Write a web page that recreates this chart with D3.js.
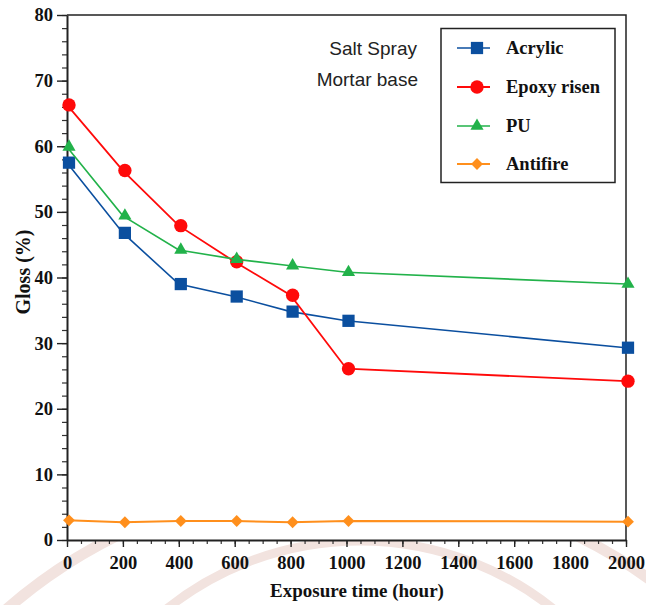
<!DOCTYPE html>
<html>
<head>
<meta charset="utf-8">
<script src="https://cdn.jsdelivr.net/npm/d3@7"></script>
<style>
  html, body { margin: 0; padding: 0; background: #fff; }
  svg { display: block; }
  .tick text { font-family: "Liberation Serif", "Times New Roman", serif; font-weight: bold; fill: #111; }
</style>
</head>
<body>
<svg id="chart" width="646" height="605"></svg>
<script>
// Exposure time (hours) at which gloss was measured
const hours = [0, 200, 400, 600, 800, 1000, 2000];

// Gloss (%) for each coating on mortar base after salt spray
const acrylic  = [57.5, 46.8, 39.0, 37.1, 34.8, 33.4, 29.3];
const epoxy    = [66.3, 56.3, 47.9, 42.4, 37.3, 26.1, 24.2];
const pu       = [59.9, 49.4, 44.2, 42.8, 41.8, 40.8, 39.0];
const antifire = [3.0, 2.7, 2.9, 2.9, 2.7, 2.9, 2.8];

const seriesNames  = ["Acrylic", "Epoxy risen", "PU", "Antifire"];
const seriesValues = [acrylic, epoxy, pu, antifire];

const xTicks = [0, 200, 400, 600, 800, 1000, 1200, 1400, 1600, 1800, 2000];
const yTicks = [0, 10, 20, 30, 40, 50, 60, 70, 80];

const colors  = ["#0b4f9f", "#ff0a0a", "#22b24a", "#ff8f1c"];
const widths  = [1.6, 1.8, 1.6, 2];

const svg = d3.select("#chart");

const x = d3.scaleLinear().domain([0, 2000]).range([67, 626]);
const y = d3.scaleLinear().domain([0, 80]).range([540, 15]);

// faint seal watermark, visible only outside the plotting area
svg.append("clipPath").attr("id", "outside")
  .append("path")
  .attr("d", `M0,${y(0) + 1}H646V605H0Z M0,0H${x(0) - 1}V605H0Z`);
const wm = svg.append("g").attr("clip-path", "url(#outside)")
  .attr("fill", "none").attr("stroke", "#f2e3df");
wm.append("circle").attr("cx", 360).attr("cy", 850).attr("r", 309).attr("stroke-width", 9);
wm.append("circle").attr("cx", 347).attr("cy", 1001).attr("r", 519).attr("stroke-width", 11);

// frame: top and right borders
svg.append("path")
  .attr("d", `M${x(0)},${y(80)}H${x(2000)}V${y(0)}`)
  .attr("fill", "none").attr("stroke", "#222").attr("stroke-width", 1.5);

// minor ticks
svg.append("g").attr("transform", `translate(0,${y(0)})`)
  .call(d3.axisBottom(x).tickValues(d3.range(0, 2001, 50)).tickSize(4).tickFormat(""))
  .call(g => g.select(".domain").remove())
  .selectAll("line").attr("stroke", "#333").attr("stroke-width", 1.2);
svg.append("g").attr("transform", `translate(${x(0)},0)`)
  .call(d3.axisLeft(y).tickValues(d3.range(0, 81, 2)).tickSize(5).tickFormat(""))
  .call(g => g.select(".domain").remove())
  .selectAll("line").attr("stroke", "#333").attr("stroke-width", 1.2);

// major axes
const xAxis = svg.append("g").attr("transform", `translate(0,${y(0)})`)
  .call(d3.axisBottom(x).tickValues(xTicks).tickFormat(d3.format("d"))
    .tickSize(7).tickSizeOuter(0).tickPadding(9));
xAxis.select(".domain").attr("stroke", "#222").attr("stroke-width", 2);
xAxis.selectAll("line").attr("stroke", "#222").attr("stroke-width", 1.4);
xAxis.selectAll("text").attr("font-size", 18.5);

const yAxis = svg.append("g").attr("transform", `translate(${x(0)},0)`)
  .call(d3.axisLeft(y).tickValues(yTicks).tickFormat(d3.format("d"))
    .tickSize(10).tickSizeOuter(0).tickPadding(4));
yAxis.select(".domain").attr("stroke", "#222").attr("stroke-width", 2);
yAxis.selectAll("line").attr("stroke", "#222").attr("stroke-width", 1.4);
yAxis.selectAll("text").attr("font-size", 18.5);

// axis titles
svg.append("text")
  .attr("x", 357).attr("y", 597)
  .attr("text-anchor", "middle")
  .attr("font-family", "Liberation Serif, Times New Roman, serif")
  .attr("font-weight", "bold").attr("font-size", 19).attr("fill", "#111")
  .text("Exposure time (hour)");
svg.append("text")
  .attr("transform", "translate(29.5,272) rotate(-90)")
  .attr("text-anchor", "middle")
  .attr("font-family", "Liberation Serif, Times New Roman, serif")
  .attr("font-weight", "bold").attr("font-size", 20).attr("fill", "#111")
  .text("Gloss (%)");

// annotation
const note = svg.append("g")
  .attr("font-family", "Liberation Sans, Arial, sans-serif")
  .attr("font-size", 19).attr("fill", "#222").attr("text-anchor", "end");
note.append("text").attr("x", 417).attr("y", 55).text("Salt Spray");
note.append("text").attr("x", 418).attr("y", 86).text("Mortar base");

// marker shapes per series
const symbols = [
  d3.symbol().type(d3.symbolSquare).size(150),
  d3.symbol().type(d3.symbolCircle).size(140),
  d3.symbol().type(d3.symbolTriangle).size(75),
  d3.symbol().type(d3.symbolSquare).size(70)
];
const rotations = [0, 0, 0, 45];

const line = d3.line().x((d, i) => x(hours[i])).y(d => y(d));

seriesValues.forEach((vals, s) => {
  const g = svg.append("g");
  g.append("path").datum(vals)
    .attr("d", line)
    .attr("fill", "none").attr("stroke", colors[s]).attr("stroke-width", widths[s]);
  g.selectAll("path.pt").data(vals).join("path")
    .attr("class", "pt")
    .attr("d", symbols[s])
    .attr("transform", (d, i) => `translate(${x(hours[i]) + 2},${y(d)}) rotate(${rotations[s]})`)
    .attr("fill", colors[s]);
});

// legend
const lg = svg.append("g");
lg.append("rect").attr("x", 441).attr("y", 28.5).attr("width", 174).attr("height", 154)
  .attr("fill", "#fff").attr("stroke", "#222").attr("stroke-width", 1.5);
const rowY = [48, 87, 126, 164];
seriesNames.forEach((name, s) => {
  const r = lg.append("g").attr("transform", `translate(0,${rowY[s]})`);
  r.append("line").attr("x1", 457).attr("x2", 490).attr("y1", 0).attr("y2", 0)
    .attr("stroke", colors[s]).attr("stroke-width", widths[s]);
  r.append("path").attr("d", symbols[s])
    .attr("transform", `translate(477,0) rotate(${rotations[s]})`)
    .attr("fill", colors[s]);
  r.append("text").attr("x", 506).attr("y", 6)
    .attr("font-family", "Liberation Serif, Times New Roman, serif")
    .attr("font-weight", "bold").attr("font-size", 18.5).attr("fill", "#111")
    .text(name);
});
</script>
</body>
</html>
